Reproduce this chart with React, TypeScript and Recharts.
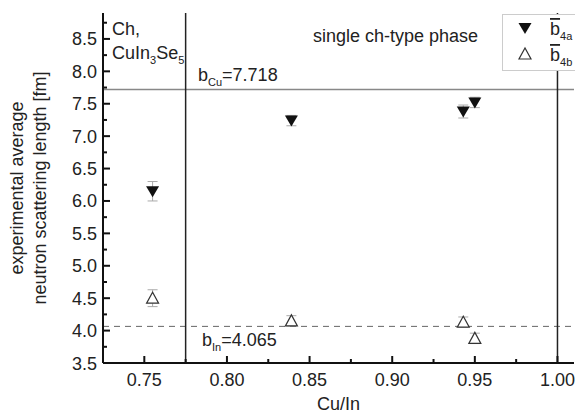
import React from 'react';
import {
  ScatterChart,
  Scatter,
  XAxis,
  YAxis,
  ReferenceLine,
  ErrorBar,
} from 'recharts';

const cuIn = [0.755, 0.839, 0.943, 0.95];
const b4a = [6.15, 7.24, 7.38, 7.52];
const b4aErr = [0.15, 0.08, 0.1, 0.08];
const b4b = [4.5, 4.15, 4.13, 3.88];
const b4bErr = [0.13, 0.08, 0.08, 0.08];

const xTicks = [0.75, 0.775, 0.8, 0.825, 0.85, 0.875, 0.9, 0.925, 0.95, 0.975, 1.0];
const yTicks = [3.5, 3.75, 4.0, 4.25, 4.5, 4.75, 5.0, 5.25, 5.5, 5.75, 6.0, 6.25, 6.5, 6.75, 7.0, 7.25, 7.5, 7.75, 8.0, 8.25, 8.5, 8.75];

const bCu = 7.718;
const bIn = 4.065;
const chBoundary = 0.775;
const cuInOne = 1.0;

const dataA = cuIn.map((x, i) => ({ x, y: b4a[i], err: b4aErr[i] }));
const dataB = cuIn.map((x, i) => ({ x, y: b4b[i], err: b4bErr[i] }));

const FONT = '"Liberation Sans", Arial, sans-serif';
const INK = '#222';

const isMajor = (v: number, k: number) => Math.abs(v * k - Math.round(v * k)) < 1e-6;

const xTick = (side: 'bottom' | 'top') => (props: any) => {
  const { x, y, payload } = props;
  const major = isMajor(payload.value, 20);
  const len = major ? 7 : 4;
  const dir = side === 'bottom' ? -1 : 1;
  return (
    <g>
      <line x1={x} y1={y} x2={x} y2={y + dir * len} stroke="#111" strokeWidth={2} />
      {side === 'bottom' && major && (
        <text x={x} y={y + 23} textAnchor="middle" fontSize={18} fontFamily={FONT} fill={INK}>
          {payload.value.toFixed(2)}
        </text>
      )}
    </g>
  );
};

const yTick = (side: 'left' | 'right') => (props: any) => {
  const { x, y, payload } = props;
  const major = isMajor(payload.value, 2);
  const len = major ? 7 : 4;
  const dir = side === 'left' ? 1 : -1;
  return (
    <g>
      <line x1={x} y1={y} x2={x + dir * len} y2={y} stroke="#111" strokeWidth={2} />
      {side === 'left' && major && (
        <text x={x - 6} y={y + 6.5} textAnchor="end" fontSize={18} fontFamily={FONT} fill={INK}>
          {payload.value.toFixed(1)}
        </text>
      )}
    </g>
  );
};

const DownTriangle = (props: any) => {
  const { cx, cy } = props;
  return <polygon points={`${cx - 6.5},${cy - 5} ${cx + 6.5},${cy - 5} ${cx},${cy + 6}`} fill="#111" />;
};

const UpTriangle = (props: any) => {
  const { cx, cy } = props;
  return (
    <polygon
      points={`${cx - 6},${cy + 5} ${cx + 6},${cy + 5} ${cx},${cy - 6}`}
      fill="#fff"
      stroke="#333"
      strokeWidth={1.2}
    />
  );
};

const txt = { fontSize: 18, fontFamily: FONT, fill: INK };

const annotations = () => (
  <g>
    <text x={112} y={35} {...txt}>Ch,</text>
    <text x={112} y={59} {...txt}>
      CuIn<tspan fontSize={11} dy={5}>3</tspan>
      <tspan dy={-5}>Se</tspan>
      <tspan fontSize={11} dy={5}>5</tspan>
    </text>
    <text x={313} y={42} {...txt}>single ch-type phase</text>
  </g>
);

const cuLabel = ({ viewBox }: any) => (
  <text x={198} y={viewBox.y - 9} {...txt}>
    b<tspan fontSize={11} dy={5}>Cu</tspan>
    <tspan dy={-5}>={bCu.toFixed(3)}</tspan>
  </text>
);

const inLabel = ({ viewBox }: any) => (
  <text x={202} y={viewBox.y + 20} {...txt}>
    b<tspan fontSize={11} dy={5}>In</tspan>
    <tspan dy={-5}>={bIn.toFixed(3)}</tspan>
  </text>
);

const LegendBox = () => (
  <svg width={80} height={57} style={{ position: 'absolute', left: 502, top: 14 }}>
    <rect x={0.5} y={0.5} width={90} height={56} fill="#fff" stroke="#ccc" />
    <DownTriangle cx={23} cy={14} />
    <UpTriangle cx={23} cy={40} />
    <text x={48} y={21} {...txt}>
      <tspan style={{ textDecoration: 'overline' }}>b</tspan>
      <tspan fontSize={11} dy={5}>4a</tspan>
    </text>
    <text x={48} y={47} {...txt}>
      <tspan style={{ textDecoration: 'overline' }}>b</tspan>
      <tspan fontSize={11} dy={5}>4b</tspan>
    </text>
  </svg>
);

export default function App() {
  return (
    <div style={{ position: 'absolute', left: 0, top: 0, width: 575, height: 415, background: '#fff' }}>
      <ScatterChart width={575} height={415} margin={{ top: 13, right: 1, bottom: 0, left: 0 }}>
        <XAxis
          type="number"
          dataKey="x"
          domain={[0.725, 1.01]}
          ticks={xTicks}
          interval={0}
          height={52}
          tickSize={0}
          tickMargin={0}
          tickLine={false}
          axisLine={{ stroke: '#111', strokeWidth: 2 }}
          tick={xTick('bottom')}
          allowDataOverflow
          label={{ value: 'Cu/In', position: 'insideBottom', offset: 5, fontSize: 18, fontFamily: FONT, fill: INK }}
        />
        <XAxis
          xAxisId="top"
          orientation="top"
          type="number"
          dataKey="x"
          domain={[0.725, 1.01]}
          ticks={xTicks}
          interval={0}
          height={0}
          tickSize={0}
          tickMargin={0}
          tickLine={false}
          axisLine={{ stroke: '#111', strokeWidth: 2 }}
          tick={xTick('top')}
          allowDataOverflow
        />
        <YAxis
          type="number"
          dataKey="y"
          domain={[3.5, 8.9]}
          ticks={yTicks}
          interval={0}
          width={103}
          tickSize={0}
          tickMargin={0}
          tickLine={false}
          axisLine={{ stroke: '#111', strokeWidth: 2 }}
          tick={yTick('left')}
          allowDataOverflow
        />
        <YAxis
          yAxisId="right"
          orientation="right"
          type="number"
          dataKey="y"
          domain={[3.5, 8.9]}
          ticks={yTicks}
          interval={0}
          width={0}
          tickSize={0}
          tickMargin={0}
          tickLine={false}
          axisLine={{ stroke: '#111', strokeWidth: 2 }}
          tick={yTick('right')}
          allowDataOverflow
        />
        <ReferenceLine y={bCu} stroke="#888" strokeWidth={1.5} label={cuLabel} />
        <ReferenceLine y={bIn} stroke="#666" strokeWidth={1} strokeDasharray="6 5" label={inLabel} />
        <ReferenceLine x={chBoundary} stroke="#222" strokeWidth={1.5} label={annotations} />
        <ReferenceLine x={cuInOne} stroke="#222" strokeWidth={1.5} />
        <Scatter data={dataA} shape={DownTriangle} isAnimationActive={false}>
          <ErrorBar dataKey="err" direction="y" width={5} stroke="#aaa" strokeWidth={1} />
        </Scatter>
        <Scatter data={dataB} shape={UpTriangle} isAnimationActive={false}>
          <ErrorBar dataKey="err" direction="y" width={5} stroke="#aaa" strokeWidth={1} />
        </Scatter>
      </ScatterChart>
      <LegendBox />
      <svg width={60} height={250} style={{ position: 'absolute', left: 0, top: 63 }}>
        <text transform="translate(23,125) rotate(-90)" textAnchor="middle" {...txt}>experimental average</text>
        <text transform="translate(46,125) rotate(-90)" textAnchor="middle" {...txt}>neutron scattering length [fm]</text>
      </svg>
    </div>
  );
}
